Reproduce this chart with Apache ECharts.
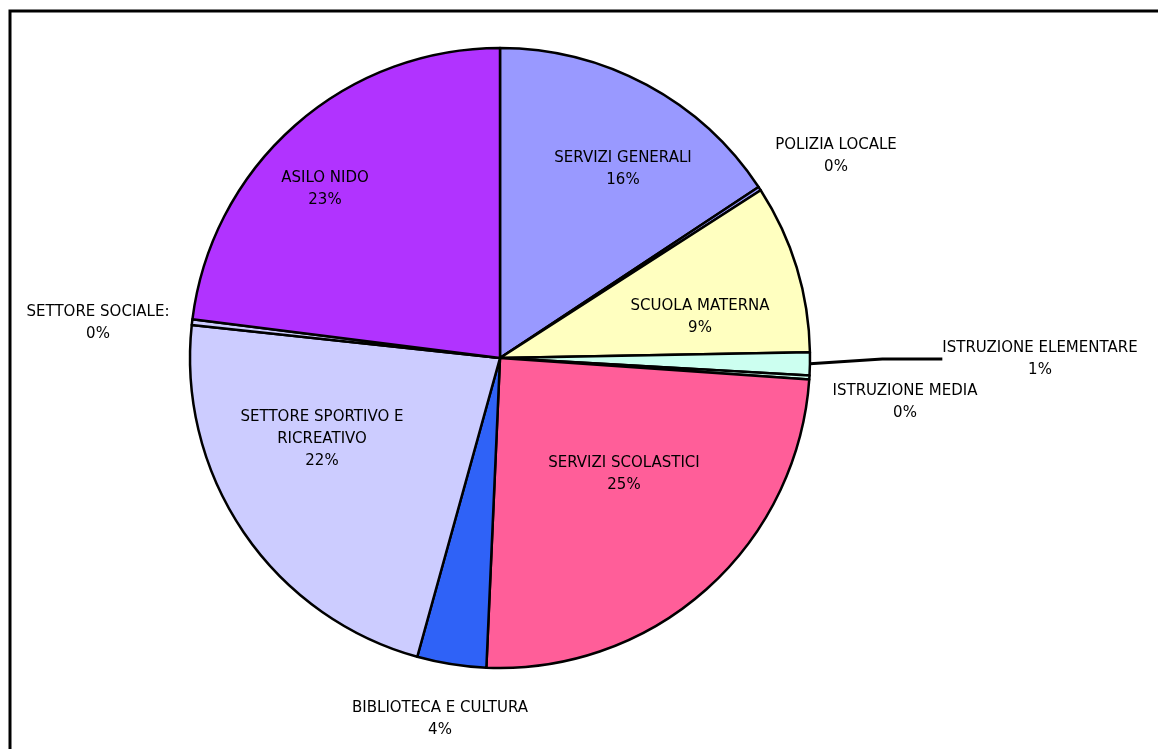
<!DOCTYPE html>
<html>
<head>
<meta charset="utf-8">
<script src="https://cdn.jsdelivr.net/npm/echarts@6/dist/echarts.min.js"></script>
<style>
html,body{margin:0;padding:0;background:#fff;}
#chart{width:1158px;height:749px;}
</style>
</head>
<body>
<div id="chart"></div>
<script>
// Data
var categories = [
  'SERVIZI GENERALI',
  'POLIZIA LOCALE',
  'SCUOLA MATERNA',
  'ISTRUZIONE ELEMENTARE',
  'ISTRUZIONE MEDIA',
  'SERVIZI SCOLASTICI',
  'BIBLIOTECA E CULTURA',
  'SETTORE SPORTIVO E\nRICREATIVO',
  'SETTORE SOCIALE:',
  'ASILO NIDO'
];
var values = [15.7, 0.2, 8.8, 1.2, 0.2, 24.6, 3.6, 22.4, 0.3, 23.0];

// Styles
var colors = ['#9999FF', '#9999FF', '#FFFFC0', '#CCFFF0', '#CCFFF0', '#FF5E99', '#2F62F7', '#CCCCFF', '#CCCCFF', '#B133FF'];
var labelPlacement = [
  {x: 623, y: 169},
  {x: 836, y: 156},
  {x: 700, y: 317},
  {x: 1040, y: 359},
  {x: 905, y: 402},
  {x: 624, y: 474},
  {x: 440, y: 719},
  {x: 322, y: 439},
  {x: 98, y: 323},
  {x: 325, y: 189}
];
var showLine = [false, false, false, true, false, false, false, false, false, false];

var chart = echarts.init(document.getElementById('chart'));
var seriesData = categories.map(function (name, i) {
  return {
    name: name,
    value: values[i],
    itemStyle: {color: colors[i]},
    labelLine: {show: showLine[i], length: 20, length2: 60, lineStyle: {color: '#000', width: 3}}
  };
});

chart.setOption({
  animation: false,
  backgroundColor: '#fff',
  graphic: [{
    type: 'rect',
    shape: {x: 10, y: 11, width: 1200, height: 800},
    style: {fill: 'none', stroke: '#000', lineWidth: 3},
    silent: true
  }],
  series: [{
    type: 'pie',
    center: [500, 358],
    radius: 310,
    startAngle: 90,
    clockwise: true,
    avoidLabelOverlap: false,
    itemStyle: {borderColor: '#000', borderWidth: 2.5},
    label: {
      show: true,
      position: 'outside',
      formatter: function (p) { return p.name + '\n' + Math.round(p.percent) + '%'; },
      fontFamily: 'DejaVu Sans, Liberation Sans, sans-serif',
      fontSize: 15,
      lineHeight: 22,
      color: '#000',
      align: 'center'
    },
    labelLayout: function (params) {
      var pl = labelPlacement[params.dataIndex];
      return {x: pl.x, y: pl.y, align: 'center', verticalAlign: 'middle'};
    },
    emphasis: {disabled: true},
    data: seriesData
  }]
});
</script>
</body>
</html>
